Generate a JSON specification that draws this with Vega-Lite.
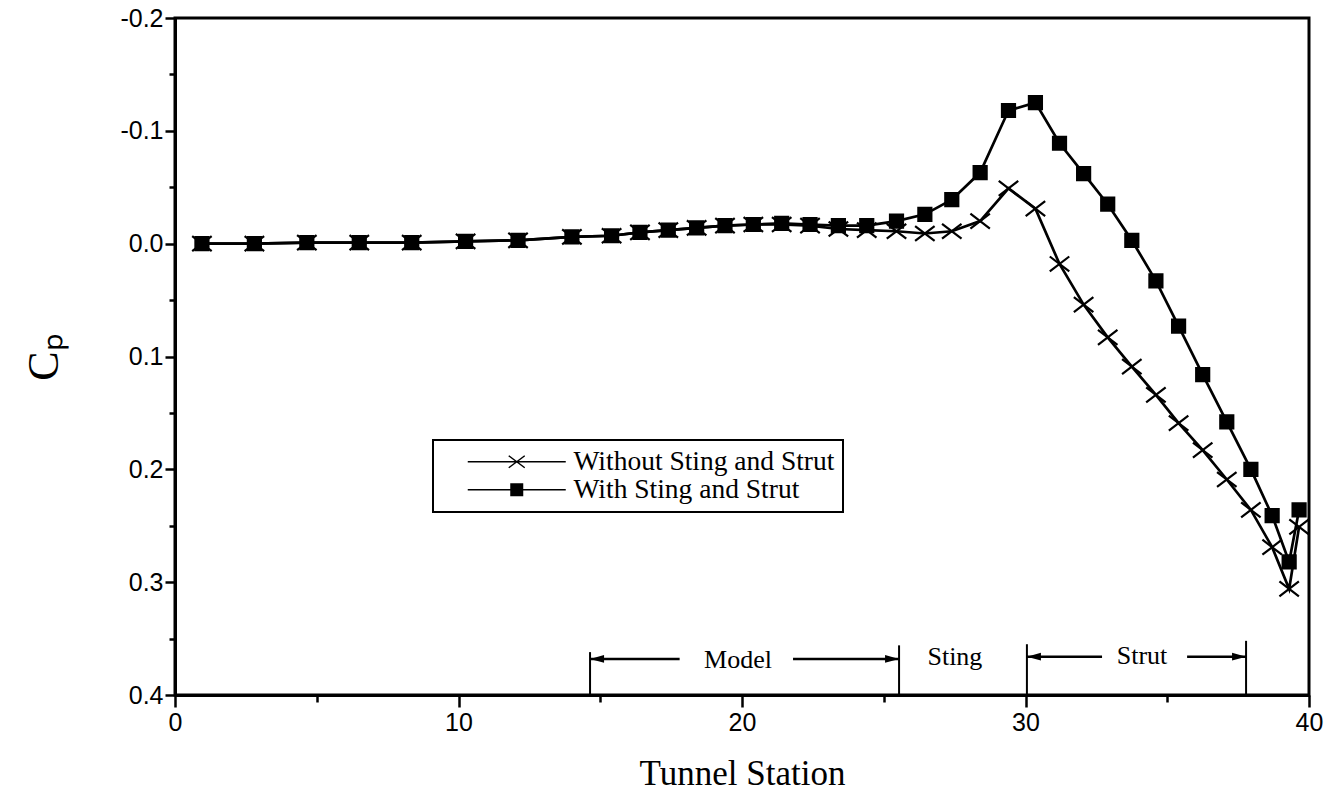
{
  "$schema": "https://vega.github.io/schema/vega-lite/v6.json",
  "width": 1134,
  "height": 677,
  "autosize": "none",
  "padding": {"left": 175, "top": 18, "right": 22, "bottom": 104},
  "background": "white",
  "datasets": {
    "cp": [
      {"station": 0.95, "series": "Without Sting and Strut", "cp": 0.000},
      {"station": 2.8, "series": "Without Sting and Strut", "cp": 0.000},
      {"station": 4.65, "series": "Without Sting and Strut", "cp": -0.001},
      {"station": 6.5, "series": "Without Sting and Strut", "cp": -0.001},
      {"station": 8.35, "series": "Without Sting and Strut", "cp": -0.001},
      {"station": 10.25, "series": "Without Sting and Strut", "cp": -0.002},
      {"station": 12.1, "series": "Without Sting and Strut", "cp": -0.003},
      {"station": 14.0, "series": "Without Sting and Strut", "cp": -0.006},
      {"station": 15.4, "series": "Without Sting and Strut", "cp": -0.007},
      {"station": 16.4, "series": "Without Sting and Strut", "cp": -0.010},
      {"station": 17.4, "series": "Without Sting and Strut", "cp": -0.012},
      {"station": 18.4, "series": "Without Sting and Strut", "cp": -0.014},
      {"station": 19.4, "series": "Without Sting and Strut", "cp": -0.016},
      {"station": 20.4, "series": "Without Sting and Strut", "cp": -0.017},
      {"station": 21.4, "series": "Without Sting and Strut", "cp": -0.017},
      {"station": 22.4, "series": "Without Sting and Strut", "cp": -0.016},
      {"station": 23.4, "series": "Without Sting and Strut", "cp": -0.013},
      {"station": 24.4, "series": "Without Sting and Strut", "cp": -0.012},
      {"station": 25.45, "series": "Without Sting and Strut", "cp": -0.011},
      {"station": 26.45, "series": "Without Sting and Strut", "cp": -0.009},
      {"station": 27.4, "series": "Without Sting and Strut", "cp": -0.011},
      {"station": 28.4, "series": "Without Sting and Strut", "cp": -0.020},
      {"station": 29.4, "series": "Without Sting and Strut", "cp": -0.049},
      {"station": 30.35, "series": "Without Sting and Strut", "cp": -0.031},
      {"station": 31.2, "series": "Without Sting and Strut", "cp": 0.018},
      {"station": 32.05, "series": "Without Sting and Strut", "cp": 0.054},
      {"station": 32.9, "series": "Without Sting and Strut", "cp": 0.083},
      {"station": 33.75, "series": "Without Sting and Strut", "cp": 0.109},
      {"station": 34.6, "series": "Without Sting and Strut", "cp": 0.134},
      {"station": 35.4, "series": "Without Sting and Strut", "cp": 0.159},
      {"station": 36.25, "series": "Without Sting and Strut", "cp": 0.183},
      {"station": 37.1, "series": "Without Sting and Strut", "cp": 0.209},
      {"station": 37.95, "series": "Without Sting and Strut", "cp": 0.236},
      {"station": 38.7, "series": "Without Sting and Strut", "cp": 0.269},
      {"station": 39.3, "series": "Without Sting and Strut", "cp": 0.306},
      {"station": 39.65, "series": "Without Sting and Strut", "cp": 0.251},
      {"station": 0.95, "series": "With Sting and Strut", "cp": 0.000},
      {"station": 2.8, "series": "With Sting and Strut", "cp": 0.000},
      {"station": 4.65, "series": "With Sting and Strut", "cp": -0.001},
      {"station": 6.5, "series": "With Sting and Strut", "cp": -0.001},
      {"station": 8.35, "series": "With Sting and Strut", "cp": -0.001},
      {"station": 10.25, "series": "With Sting and Strut", "cp": -0.002},
      {"station": 12.1, "series": "With Sting and Strut", "cp": -0.003},
      {"station": 14.0, "series": "With Sting and Strut", "cp": -0.006},
      {"station": 15.4, "series": "With Sting and Strut", "cp": -0.007},
      {"station": 16.4, "series": "With Sting and Strut", "cp": -0.010},
      {"station": 17.4, "series": "With Sting and Strut", "cp": -0.012},
      {"station": 18.4, "series": "With Sting and Strut", "cp": -0.014},
      {"station": 19.4, "series": "With Sting and Strut", "cp": -0.016},
      {"station": 20.4, "series": "With Sting and Strut", "cp": -0.017},
      {"station": 21.4, "series": "With Sting and Strut", "cp": -0.018},
      {"station": 22.4, "series": "With Sting and Strut", "cp": -0.017},
      {"station": 23.4, "series": "With Sting and Strut", "cp": -0.016},
      {"station": 24.4, "series": "With Sting and Strut", "cp": -0.016},
      {"station": 25.45, "series": "With Sting and Strut", "cp": -0.020},
      {"station": 26.45, "series": "With Sting and Strut", "cp": -0.026},
      {"station": 27.4, "series": "With Sting and Strut", "cp": -0.039},
      {"station": 28.4, "series": "With Sting and Strut", "cp": -0.063},
      {"station": 29.4, "series": "With Sting and Strut", "cp": -0.118},
      {"station": 30.35, "series": "With Sting and Strut", "cp": -0.125},
      {"station": 31.2, "series": "With Sting and Strut", "cp": -0.089},
      {"station": 32.05, "series": "With Sting and Strut", "cp": -0.062},
      {"station": 32.9, "series": "With Sting and Strut", "cp": -0.035},
      {"station": 33.75, "series": "With Sting and Strut", "cp": -0.003},
      {"station": 34.6, "series": "With Sting and Strut", "cp": 0.033},
      {"station": 35.4, "series": "With Sting and Strut", "cp": 0.073},
      {"station": 36.25, "series": "With Sting and Strut", "cp": 0.116},
      {"station": 37.1, "series": "With Sting and Strut", "cp": 0.158},
      {"station": 37.95, "series": "With Sting and Strut", "cp": 0.200},
      {"station": 38.7, "series": "With Sting and Strut", "cp": 0.241},
      {"station": 39.3, "series": "With Sting and Strut", "cp": 0.282},
      {"station": 39.65, "series": "With Sting and Strut", "cp": 0.236}
    ],
    "bounds": [
      {"station": 14.64, "top": 0.362, "bottom": 0.4},
      {"station": 25.54, "top": 0.356, "bottom": 0.4},
      {"station": 30.05, "top": 0.355, "bottom": 0.4},
      {"station": 37.78, "top": 0.352, "bottom": 0.4}
    ],
    "arrows": [
      {"from": 14.64, "to": 17.8, "cp": 0.368, "dir": "left"},
      {"from": 21.8, "to": 25.54, "cp": 0.368, "dir": "right"},
      {"from": 30.05, "to": 32.7, "cp": 0.366, "dir": "left"},
      {"from": 35.7, "to": 37.78, "cp": 0.366, "dir": "right"}
    ],
    "regions": [
      {"station": 19.86, "cp": 0.369, "label": "Model"},
      {"station": 27.51, "cp": 0.366, "label": "Sting"},
      {"station": 34.11, "cp": 0.365, "label": "Strut"}
    ]
  },
  "resolve": {
    "axis": {"x": "independent", "y": "independent"},
    "scale": {"shape": "independent"}
  },
  "layer": [
    {
      "data": {"name": "cp"},
      "mark": {"type": "line", "color": "black", "strokeWidth": 2.7},
      "encoding": {
        "x": {
          "field": "station", "type": "quantitative",
          "scale": {"domain": [0, 40], "nice": false, "zero": false},
          "axis": {
            "orient": "bottom",
            "title": "Tunnel Station",
            "titleFontSize": 35,
            "titlePadding": 21,
            "values": [0, 10, 20, 30, 40],
            "format": "d",
            "tickSize": 12,
            "labelPadding": 3
          }
        },
        "y": {
          "field": "cp", "type": "quantitative",
          "scale": {"domain": [-0.2, 0.4], "nice": false, "zero": false, "reverse": true},
          "axis": {
            "orient": "left",
            "title": "Cₚ",
            "titleFontSize": 44,
            "titlePadding": 53,
            "values": [-0.2, -0.1, 0, 0.1, 0.2, 0.3, 0.4],
            "tickSize": 10,
            "labelExpr": "(datum.value < 0 ? '-' : '') + format(abs(datum.value), '.1f')",
            "labelPadding": 2
          }
        },
        "detail": {"field": "series"}
      }
    },
    {
      "data": {"name": "cp"},
      "mark": {"type": "point", "filled": true, "size": 169, "color": "black", "stroke": "black", "strokeWidth": 2.2, "opacity": 1},
      "encoding": {
        "x": {
          "field": "station", "type": "quantitative",
          "axis": {"orient": "bottom", "values": [5, 15, 25, 35], "tickSize": 7, "labels": false, "domain": false, "title": null}
        },
        "y": {
          "field": "cp", "type": "quantitative",
          "axis": {"orient": "left", "values": [-0.15, -0.05, 0.05, 0.15, 0.25, 0.35], "tickSize": 6, "labels": false, "domain": false, "title": null}
        },
        "shape": {
          "field": "series", "type": "nominal",
          "scale": {
            "domain": ["Without Sting and Strut", "With Sting and Strut"],
            "range": ["M-1.5,-1.15L1.5,1.15M-1.5,1.15L1.5,-1.15", "square"]
          },
          "legend": null
        }
      }
    },
    {
      "data": {"name": "cp"},
      "transform": [{"filter": "false"}],
      "mark": {"type": "point", "filled": true, "size": 100, "color": "black", "stroke": "black", "strokeWidth": 2.5, "opacity": 1},
      "encoding": {
        "x": {"field": "station", "type": "quantitative", "axis": null},
        "y": {"field": "cp", "type": "quantitative", "axis": null},
        "shape": {
          "field": "series", "type": "nominal",
          "scale": {
            "domain": ["Without Sting and Strut", "With Sting and Strut"],
            "range": ["M-9.8,0H9.8M-1.6,-1.2L1.6,1.2M-1.6,1.2L1.6,-1.2", "M-9.8,0H9.8M-1.15,-1.15H1.15V1.15H-1.15Z"]
          },
          "legend": {
            "title": null,
            "orient": "none",
            "legendX": 258,
            "legendY": 422,
            "padding": 8,
            "strokeColor": "black",
            "labelFont": "Liberation Serif",
            "labelFontSize": 27.5,
            "labelColor": "black",
            "labelLimit": 500,
            "symbolOffset": 62,
            "labelOffset": 43,
            "rowPadding": -2
          }
        }
      }
    },
    {
      "data": {"name": "bounds"},
      "mark": {"type": "rule", "color": "black", "strokeWidth": 2},
      "encoding": {
        "x": {"field": "station", "type": "quantitative", "axis": null},
        "y": {"field": "top", "type": "quantitative", "axis": null},
        "y2": {"field": "bottom"}
      }
    },
    {
      "data": {"name": "arrows"},
      "mark": {"type": "rule", "color": "black", "strokeWidth": 2.5},
      "encoding": {
        "x": {"field": "from", "type": "quantitative", "axis": null},
        "x2": {"field": "to"},
        "y": {"field": "cp", "type": "quantitative", "axis": null}
      }
    },
    {
      "data": {"name": "arrows"},
      "transform": [{"filter": "datum.dir === 'left'"}],
      "mark": {"type": "point", "shape": "M0,0L2,-0.55L2,0.55Z", "filled": true, "size": 196, "color": "black", "opacity": 1},
      "encoding": {
        "x": {"field": "from", "type": "quantitative", "axis": null},
        "y": {"field": "cp", "type": "quantitative", "axis": null}
      }
    },
    {
      "data": {"name": "arrows"},
      "transform": [{"filter": "datum.dir === 'right'"}],
      "mark": {"type": "point", "shape": "M0,0L-2,-0.55L-2,0.55Z", "filled": true, "size": 196, "color": "black", "opacity": 1},
      "encoding": {
        "x": {"field": "to", "type": "quantitative", "axis": null},
        "y": {"field": "cp", "type": "quantitative", "axis": null}
      }
    },
    {
      "data": {"name": "regions"},
      "mark": {"type": "text", "font": "Liberation Serif", "fontSize": 26, "color": "black", "align": "center", "baseline": "middle"},
      "encoding": {
        "x": {"field": "station", "type": "quantitative", "axis": null},
        "y": {"field": "cp", "type": "quantitative", "axis": null},
        "text": {"field": "label"}
      }
    }
  ],
  "config": {
    "view": {"stroke": "black", "strokeWidth": 3},
    "axis": {
      "grid": false,
      "domainColor": "black",
      "domainWidth": 3,
      "tickColor": "black",
      "tickWidth": 2.5,
      "labelColor": "black",
      "labelFont": "Liberation Sans",
      "labelFontSize": 25,
      "labelFlush": false,
      "labelOverlap": false,
      "titleColor": "black",
      "titleFont": "Liberation Serif",
      "titleFontWeight": "normal"
    },
    "legend": {"strokeWidth": 2}
  }
}
